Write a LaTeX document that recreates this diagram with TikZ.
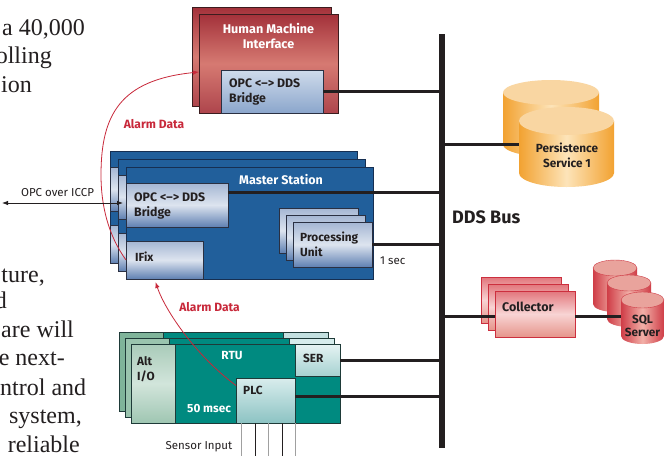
\documentclass[tikz,border=0pt]{standalone}
\usepackage{fontspec}
\setmainfont{Liberation Serif}
\setsansfont{Fira Sans}
\usetikzlibrary{arrows.meta}
\definecolor{ink}{HTML}{231F20}
\definecolor{busc}{HTML}{231F20}
\definecolor{hmiA}{HTML}{A3313A}
\definecolor{hmiB}{HTML}{D67A72}
\definecolor{hmiC}{HTML}{AE454C}
\definecolor{hmiedge}{HTML}{3B1C1E}
\definecolor{hbA}{HTML}{CFDBEB}
\definecolor{hbB}{HTML}{8BA6CC}
\definecolor{boxedge}{HTML}{2A3042}
\definecolor{msblue}{HTML}{215F9B}
\definecolor{msedge}{HTML}{162F52}
\definecolor{blA}{HTML}{A4B6D3}
\definecolor{blB}{HTML}{DDE4EF}
\definecolor{blC}{HTML}{5F80B2}
\definecolor{teal1}{HTML}{008A80}
\definecolor{rtuedge}{HTML}{1E3A38}
\definecolor{alA}{HTML}{A9CBB9}
\definecolor{alB}{HTML}{D2E5DB}
\definecolor{alC}{HTML}{9FC6B2}
\definecolor{alK}{HTML}{7FB49A}
\definecolor{alL}{HTML}{9AC4AE}
\definecolor{seA}{HTML}{E6F3F3}
\definecolor{seB}{HTML}{A6D2D1}
\definecolor{seK}{HTML}{C3E0E0}
\definecolor{seL}{HTML}{D6ECEC}
\definecolor{plA}{HTML}{D9EDED}
\definecolor{plB}{HTML}{8CC3C3}
\definecolor{coA}{HTML}{E2767C}
\definecolor{coB}{HTML}{F8D4D4}
\definecolor{coC}{HTML}{E6958B}
\definecolor{coledge}{HTML}{CC2F3E}
\definecolor{orEdge}{HTML}{F2A231}
\definecolor{orMid}{HTML}{FDE4B9}
\definecolor{orTop}{HTML}{F9D6A2}
\definecolor{sqEdge}{HTML}{CF3D47}
\definecolor{sqMid}{HTML}{F2B0A8}
\definecolor{sqTop}{HTML}{E9A39C}
\definecolor{alarmc}{HTML}{C8283A}
\definecolor{sensgray}{HTML}{A0A0A0}
\newcommand\mycyl[7]{%
  \path[#6] (#1-#2,#3) -- (#1-#2,#4) arc[start angle=180,end angle=360,x radius={#2pt},y radius={#5pt}] -- (#1+#2,#3) -- cycle;
  \path[#7] (#1,#3) ellipse [x radius={#2pt}, y radius={#5pt}];}
\tikzset{
  rbox/.style={anchor=north west, inner sep=0pt, outer sep=0pt},
  hmip/.style={rbox, draw=hmiedge, line width=0.9pt, top color=hmiA, bottom color=hmiC, middle color=hmiB, minimum width=139pt, minimum height=99pt},
  hbr/.style={rbox, draw=boxedge, line width=0.8pt, top color=hbA, bottom color=hbB, minimum width=102pt, minimum height=43pt},
  lbox/.style={rbox, draw=boxedge, line width=0.8pt, top color=blA, bottom color=blC, middle color=blB},
  msp/.style={rbox, draw=msedge, line width=0.8pt, fill=msblue, minimum width=247pt, minimum height=112pt},
  rtup/.style={rbox, draw=rtuedge, line width=0.7pt, fill=teal1, minimum width=209pt, minimum height=79pt},
  altb/.style={rbox, draw=rtuedge, line width=0.6pt, minimum width=44pt, minimum height=79pt},
  serb/.style={rbox, draw=rtuedge, line width=0.6pt, minimum width=45pt, minimum height=32pt},
  colb/.style={rbox, draw=coledge, line width=0.8pt, top color=coA, bottom color=coC, middle color=coB, minimum width=80pt, minimum height=46pt},
  link/.style={line width=3pt, draw=ink},
  alarm/.style={draw=alarmc, line width=0.8pt, -{Latex[length=6pt,width=4.5pt]}},
  btxt/.style={inner sep=0pt, text=ink, font=\sffamily\bfseries\fontsize{11.8}{15}\selectfont, align=left},
  brtxt/.style={btxt, font=\sffamily\bfseries\fontsize{12.3}{15}\selectfont},
  wtxt/.style={btxt, text=white, align=center},
  rtxt/.style={inner sep=0pt, text=ink, font=\sffamily\fontsize{11.5}{13}\selectfont},
  atxt/.style={inner sep=0pt, text=alarmc, font=\sffamily\bfseries\fontsize{12}{14}\selectfont},
  body/.style={inner sep=0pt, anchor=base east, text=ink, font=\rmfamily\fontsize{24}{28}\selectfont},
  bodyw/.style={body, anchor=base west},
  orbody/.style={left color=orEdge, right color=orEdge, middle color=orMid},
  ortop/.style={fill=orTop},
  sqbody/.style={left color=sqEdge, right color=sqEdge, middle color=sqMid},
  sqtop/.style={fill=sqTop, draw=sqEdge, line width=0.4pt}
}
\begin{document}
\begin{tikzpicture}[x=1pt,y=-1pt]
\fill[white] (0,0) rectangle (670,456);
\useasboundingbox (0,0) rectangle (670,456);
% body text (cut-off column)
\node[bodyw] (t1) at (2,35) {a 40,000};
\node[body] (t2) at (52,63) {olling};
\node[body] (t3) at (32,92) {ion};
\node[body] (t4) at (45,282) {ture,};
\node[body] (t5) at (7,308) {d};
\node[bodyw] (t6) at (1,337) {are will};
\node[body] (t7) at (65,365) {e next-};
\node[bodyw] (t8) at (0,395) {ntrol and};
\node[body] (t9) at (82,423) {system,};
\node[body] (t10) at (80,452) {reliable};
% HMI
\node[hmip] (hmib) at (192,7) {};
\node[hmip] (hmif) at (199,14) {};
\node[hbr] (hbr) at (221,70) {};
\node[wtxt, font=\sffamily\bfseries\fontsize{12.6}{15}\selectfont] (hmit) at (268.5,35.5) {Human Machine\\Interface};
\node[brtxt, anchor=west] (hbrt) at (229,91.5) {OPC <–> DDS\\Bridge};
% Master station
\foreach \d in {16,8,0}{
  \node[msp] (ms\d) at (126-\d,167-\d) {};
  \node[lbox, minimum width=102pt, minimum height=44pt] (br\d) at (126-\d,183-\d) {};
  \node[lbox, minimum width=77pt, minimum height=38pt] (if\d) at (126-\d,241-\d) {};
}
\foreach \d in {14,7,0}{
  \node[lbox, minimum width=79pt, minimum height=45pt] (pu\d) at (293-\d,222-\d) {};
}
\node[wtxt, font=\sffamily\bfseries\fontsize{12.5}{15}\selectfont] (mst) at (281,180) {Master Station};
\node[brtxt, anchor=west] (mbrt) at (134,205.5) {OPC <–> DDS\\Bridge};
\node[btxt, anchor=west] (ift) at (135,257) {IFix};
\node[btxt, anchor=west] (put) at (300,244.5) {Processing\\Unit};
\node[rtxt, anchor=west] (sec) at (380,261) {1 sec};
% RTU
\node[rtup] (rtu12) at (119,332) {};
\node[altb, fill=alK] (alt12) at (119,332) {};
\node[serb, fill=seK] (ser12) at (283,332) {};
\node[rtup] (rtu6) at (125,338) {};
\node[altb, fill=alL] (alt6) at (125,338) {};
\node[serb, fill=seL] (ser6) at (289,338) {};
\node[rtup] (rtu0) at (131,344) {};
\node[altb, top color=alA, bottom color=alC, middle color=alB] (alt0) at (131,344) {};
\node[serb, top color=seA, bottom color=seB] (ser0) at (295,344) {};
\node[rbox, draw=rtuedge, line width=0.6pt, top color=plA, bottom color=plB, minimum width=59pt, minimum height=45pt] (plc) at (236,378) {};
\node[wtxt] (rtut) at (232,356) {RTU};
\node[wtxt, anchor=west] (msec) at (187,409) {50 msec};
\node[btxt, anchor=west] (altt) at (137,369.5) {Alt\\I/O};
\node[btxt, anchor=west] (sert) at (303,358) {SER};
\node[btxt, anchor=west] (plct) at (243,390) {PLC};
\foreach \x/\c [count=\i] in {241/sensgray,255/ink,268/sensgray,282/ink,295/sensgray}{
  \coordinate (s\i) at (\x,456);
  \draw[\c, line width=0.9pt] (s\i |- plc.south) -- (s\i);
}
\node[rtxt] (sens) at (199,447) {Sensor Input};
% Persistence
\mycyl{551}{48}{92.5}{144.5}{12.5}{orbody}{ortop}
\coordinate (persL) at (519,144);
\node[fill=busc, minimum width=6pt, minimum height=414pt, inner sep=0pt, anchor=north] (bus) at (442,34) {};
\draw[link] (persL -| bus) -- (persL);
\mycyl{566.5}{47.5}{121}{173}{14}{orbody}{ortop}
\node[btxt, align=center] (pers) at (567,155.5) {Persistence\\Service 1};
% Collector
\node[colb] (col16) at (481,277) {};
\node[colb] (col8) at (488,284) {};
\node[colb] (col0) at (495,291) {};
\node[btxt, anchor=west, font=\sffamily\bfseries\fontsize{12.5}{15}\selectfont] (colt) at (502,307) {Collector};
% SQL
\mycyl{615}{22}{268}{304}{8}{sqbody}{sqtop}
\mycyl{629}{22}{283}{319}{8}{sqbody}{sqtop}
\coordinate (sqlL) at (621,316);
\draw[link] (col0.east |- sqlL) -- (sqlL);
\mycyl{642.5}{21.5}{300}{336}{8}{sqbody}{sqtop}
\node[btxt, align=center, font=\sffamily\bfseries\fontsize{11.8}{13}\selectfont] (sql) at (642.5,325.5) {SQL\\Server};
% links to bus
\draw[link] (hbr.east) -- (hbr.east -| bus);
\draw[link] ([yshift=13pt]br0.east) -- ([yshift=13pt]br0.east -| bus);
\draw[link] (pu0.east) -- (pu0.east -| bus);
\draw[link] (col0.west |- sqlL) -- (sqlL -| bus);
\draw[link] (ser0.east) -- (ser0.east -| bus);
\draw[link] ([yshift=4pt]plc.east) -- ([yshift=4pt]plc.east -| bus);
\node[btxt, anchor=west, font=\sffamily\bfseries\fontsize{18}{20}\selectfont] (ddst) at (452,217) {DDS Bus};
% alarm data
\draw[alarm] (if0.west) .. controls (108,235) and (101,205) .. (101,175) .. controls (101,115) and (120,80) .. ([yshift=-8.5pt]hmif.west);
\node[atxt] (al1) at (154,124) {Alarm Data};
\draw[alarm] ([yshift=15pt]plc.west) .. controls (195,355) and (165,310) .. ([xshift=-9pt,yshift=-3pt]if0.south);
\node[atxt] (al2) at (209.5,307) {Alarm Data};
% OPC over ICCP
\coordinate (iccpL) at (2,203);
\draw[ink, line width=0.8pt, {Latex[length=6pt,width=4.5pt]}-{Latex[length=6pt,width=4.5pt]}, shorten >=3pt] (iccpL) -- (iccpL -| br0.west);
\node[rtxt] (iccp) at (57.5,193) {OPC over ICCP};
\end{tikzpicture}
\end{document}
